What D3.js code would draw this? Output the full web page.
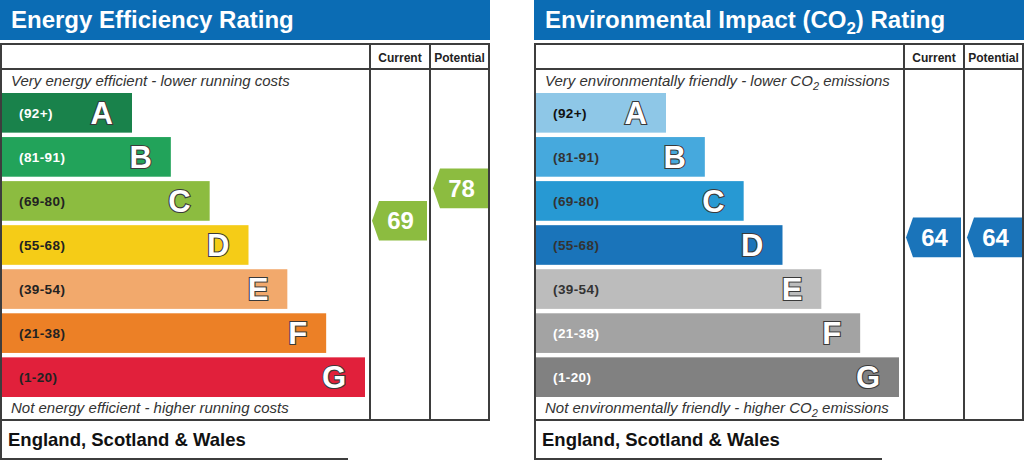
<!DOCTYPE html>
<html>
<head>
<meta charset="utf-8">
<script src="https://cdn.jsdelivr.net/npm/d3@7"></script>
<style>
  body { margin: 0; background: #fff; }
  svg { display: block; font-family: "Liberation Sans", Arial, sans-serif; }
</style>
</head>
<body>
<div id="wrapper"></div>
<script>
// rating bands, shared by both charts
const bandLetters = ["A", "B", "C", "D", "E", "F", "G"]
const bandRanges = ["(92+)", "(81-91)", "(69-80)", "(55-68)", "(39-54)", "(21-38)", "(1-20)"]
const bandMax = [100, 91, 80, 68, 54, 38, 20]
const bandMin = [92, 81, 69, 55, 39, 21, 1]

const energyColours = ["#19824b", "#22a35a", "#8cbc40", "#f5cc17", "#f2a96c", "#ec8026", "#e1203b"]
const energyLabelColours = ["#fff", "#fff", "#222", "#222", "#222", "#222", "#222"]
const co2Colours = ["#8ec7e7", "#46a9dd", "#2799d3", "#1a74ba", "#bcbcbc", "#a3a3a3", "#818181"]
const co2LabelColours = ["#111", "#333", "#333", "#333", "#333", "#fff", "#fff"]

const energyScores = { current: 69, potential: 78 }
const co2Scores = { current: 64, potential: 64 }

const columnNames = ["Current", "Potential"]
const footerText = "England, Scotland & Wales"

const width = 1024
const height = 460

const svg = d3.select("#wrapper")
    .append("svg")
    .attr("width", width)
    .attr("height", height)

const dims = {
    panelWidth: 490,
    headerHeight: 40,
    tableTop: 44,
    headRow: 69,
    tableBottom: 420,
    colCurrent: 370,
    colPotential: 430,
    tableRight: 489,
}

const yBand = d3.scaleBand()
    .domain(bandLetters)
    .range([93, 397])
    .paddingInner(0.1)

const barWidth = d3.scaleLinear()
    .domain([0, bandLetters.length - 1])
    .range([130, 363])

// score -> vertical position, piecewise across the bands
const scoreDomain = []
const scoreRange = []
bandLetters.forEach((l, i) => {
    scoreDomain.push(bandMax[i], bandMin[i])
    scoreRange.push(yBand(l), yBand(l) + yBand.bandwidth())
})
const yScore = d3.scaleLinear().domain(scoreDomain).range(scoreRange)

function drawPanel(x0, opts) {
    const g = svg.append("g").attr("transform", `translate(${x0},0)`)
    const line = "#3d3d3d"

    g.append("rect")
        .attr("width", dims.panelWidth).attr("height", dims.headerHeight)
        .attr("fill", "#0b6cb4")

    const title = g.append("text")
        .attr("x", 11).attr("y", 28)
        .attr("fill", "#fff")
        .attr("font-size", 24).attr("font-weight", "bold")
    opts.title(title)

    // table frame
    g.append("rect")
        .attr("x", 1).attr("y", dims.tableTop)
        .attr("width", dims.tableRight - 1)
        .attr("height", dims.tableBottom - dims.tableTop)
        .attr("fill", "#fff").attr("stroke", line).attr("stroke-width", 2)
    g.append("line")
        .attr("x1", 1).attr("x2", dims.tableRight)
        .attr("y1", dims.headRow).attr("y2", dims.headRow)
        .attr("stroke", line).attr("stroke-width", 2)
    ;[dims.colCurrent, dims.colPotential].forEach(cx => {
        g.append("line")
            .attr("x1", cx).attr("x2", cx)
            .attr("y1", dims.tableTop).attr("y2", dims.tableBottom)
            .attr("stroke", line).attr("stroke-width", 2)
    })
    const colCentres = [
        (dims.colCurrent + dims.colPotential) / 2,
        (dims.colPotential + dims.tableRight) / 2,
    ]
    g.selectAll(".colhead")
        .data(columnNames)
        .enter()
        .append("text")
        .attr("x", (d, i) => colCentres[i])
        .attr("y", 62)
        .attr("text-anchor", "middle")
        .attr("font-size", 12).attr("font-weight", "bold")
        .attr("fill", "#222")
        .text(d => d)

    const topNote = g.append("text")
        .attr("x", 11).attr("y", 86)
        .attr("font-size", 15).attr("font-style", "italic")
        .attr("fill", "#333")
    opts.topNote(topNote)
    const bottomNote = g.append("text")
        .attr("x", 11).attr("y", 413)
        .attr("font-size", 15).attr("font-style", "italic")
        .attr("fill", "#333")
    opts.bottomNote(bottomNote)

    // bars
    const bars = g.selectAll(".band")
        .data(bandLetters)
        .enter()
        .append("g")

    bars.append("rect")
        .attr("x", 2)
        .attr("y", d => yBand(d))
        .attr("width", (d, i) => barWidth(i))
        .attr("height", yBand.bandwidth())
        .attr("fill", (d, i) => opts.colours[i])

    bars.append("text")
        .attr("x", 19)
        .attr("y", d => yBand(d) + yBand.bandwidth() / 2 + 5)
        .attr("font-size", 13.5).attr("font-weight", "bold")
        .attr("letter-spacing", 0.4)
        .attr("fill", (d, i) => opts.labelColours[i])
        .text((d, i) => bandRanges[i])

    bars.append("text")
        .attr("x", (d, i) => 2 + barWidth(i) - 19)
        .attr("y", d => yBand(d) + yBand.bandwidth() / 2 + 11)
        .attr("text-anchor", "end")
        .attr("font-size", 31).attr("font-weight", "bold")
        .attr("fill", "#fff")
        .attr("stroke", "#3a3a3a").attr("stroke-width", 2.2)
        .attr("paint-order", "stroke")
        .text(d => d)

    // score arrows
    const arrowH = yBand.bandwidth()
    const cols = [
        { x0: dims.colCurrent + 2, x1: dims.colPotential - 3, v: opts.scores.current },
        { x0: dims.colPotential + 3, x1: dims.tableRight - 1, v: opts.scores.potential },
    ]
    cols.forEach(c => {
        const cy = yScore(c.v)
        const idx = bandLetters.findIndex((l, i) => c.v >= bandMin[i])
        const tip = 7
        const pts = [
            [c.x0, cy], [c.x0 + tip, cy - arrowH / 2], [c.x1, cy - arrowH / 2],
            [c.x1, cy + arrowH / 2], [c.x0 + tip, cy + arrowH / 2],
        ]
        g.append("path")
            .attr("d", d3.line()(pts) + "Z")
            .attr("fill", opts.colours[idx])
        g.append("text")
            .attr("x", (c.x0 + c.x1) / 2 + 1)
            .attr("y", cy + 8.5)
            .attr("text-anchor", "middle")
            .attr("font-size", 24).attr("font-weight", "bold")
            .attr("fill", "#fff")
            .text(c.v)
    })

    // footer
    g.append("line")
        .attr("x1", 1).attr("x2", 1)
        .attr("y1", dims.tableBottom).attr("y2", 460)
        .attr("stroke", line).attr("stroke-width", 2)
    g.append("line")
        .attr("x1", 1).attr("x2", 348)
        .attr("y1", 459).attr("y2", 459)
        .attr("stroke", line).attr("stroke-width", 2)
    g.append("text")
        .attr("x", 8).attr("y", 446)
        .attr("font-size", 18.5).attr("font-weight", "bold")
        .attr("fill", "#111")
        .text(footerText)
}

function withSub(sel, before, after, size) {
    sel.append("tspan").text(before + "CO")
    sel.append("tspan").attr("font-size", size).attr("dy", size * 0.35).text("2")
    sel.append("tspan").attr("dy", -size * 0.35).text(after)
}

drawPanel(0, {
    title: t => t.text("Energy Efficiency Rating"),
    topNote: t => t.text("Very energy efficient - lower running costs"),
    bottomNote: t => t.text("Not energy efficient - higher running costs"),
    colours: energyColours,
    labelColours: energyLabelColours,
    scores: energyScores,
})

drawPanel(534, {
    title: t => withSub(t, "Environmental Impact (", ") Rating", 17),
    topNote: t => withSub(t, "Very environmentally friendly - lower ", " emissions", 11),
    bottomNote: t => withSub(t, "Not environmentally friendly - higher ", " emissions", 11),
    colours: co2Colours,
    labelColours: co2LabelColours,
    scores: co2Scores,
})
</script>
</body>
</html>
